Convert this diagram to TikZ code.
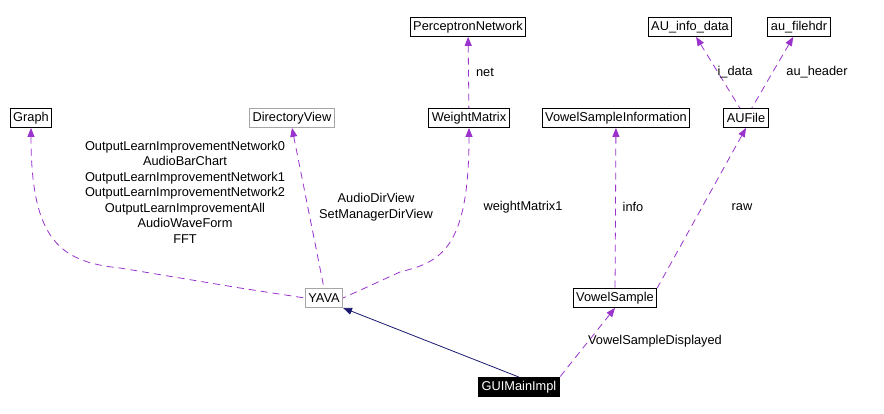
\documentclass[tikz,border=0pt]{standalone}
\usepackage{fontspec}
\setmainfont{Liberation Sans}
\usetikzlibrary{arrows.meta, positioning}
\definecolor{usecol}{HTML}{9A32CD}
\definecolor{inhcol}{HTML}{191970}
\tikzset{
    cls/.style={rectangle, draw, line width=0.8pt, fill=white, inner xsep=3pt, inner ysep=1pt, minimum height=19pt, font=\fontsize{12.8}{14}\selectfont},
    grey/.style={cls, draw=black!35},
    main/.style={cls, fill=black, text=white},
    uses/.style={usecol, dash pattern=on 7pt off 5pt, line width=0.8pt, {Triangle[length=9pt,width=7pt]}-},
    inherits/.style={inhcol, line width=0.8pt, {Triangle[length=9pt,width=7pt]}-},
    lbl/.style={text=black, font=\fontsize{12.8}{15.5}\selectfont, align=center}
}
\begin{document}
\begin{tikzpicture}[x=1pt, y=-1pt]
            \useasboundingbox (0,0) rectangle (884,414);
            \node[cls] (perceptron) at (468,27) {PerceptronNetwork};
            \node[cls] (au_info) at (690,27) {AU\_info\_data};
            \node[cls] (au_hdr) at (799,27) {au\_filehdr};
            \node[cls] (graph) at (31,118) {Graph};
            \node[grey] (dirview) at (292,118) {DirectoryView};
            \node[cls] (weight) at (469,118) {WeightMatrix};
            \node[cls] (vs_info) at (616,118) {VowelSampleInformation};
            \node[cls] (aufile) at (746,118) {AUFile};
            \node[grey] (yava) at (324,298) {YAVA};
            \node[cls] (vsample) at (615,298) {VowelSample};
            \node[main] (gui) at (519,387) {GUIMainImpl};

            \draw[uses] (perceptron) -- (weight);
            \draw[uses] (au_info) -- (aufile);
            \draw[uses] (au_hdr) -- (aufile);
            \draw[uses] (graph.south) .. controls (31,240) and (60,262) .. (120,268) -- (240,288) -- (yava.west);
            \draw[uses] (dirview.south) -- (yava.north);
            \draw[uses] (weight.south) .. controls (469,250) and (440,262) .. (400,272) -- (yava.east);
            \draw[uses] (vs_info) -- (vsample);
            \draw[uses] (aufile.south) -- (vsample.north east);
            \draw[inherits] (yava.south east) -- (gui.north);
            \draw[uses] (vsample.south) -- (gui.north east);

            \node[lbl] (l_net) at (485,72) {net};
            \node[lbl] (l_idata) at (735,72) {i\_data};
            \node[lbl] (l_hdr) at (817,72) {au\_header};
            \node[lbl] (l_graph) at (185,192) {OutputLearnImprovementNetwork0\\AudioBarChart\\OutputLearnImprovementNetwork1\\OutputLearnImprovementNetwork2\\OutputLearnImprovementAll\\AudioWaveForm\\FFT};
            \node[lbl] (l_dir) at (376,207) {AudioDirView\\SetManagerDirView};
            \node[lbl] (l_weight) at (523,207) {weightMatrix1};
            \node[lbl] (l_info) at (633,207) {info};
            \node[lbl] (l_raw) at (742,207) {raw};
            \node[lbl] (l_disp) at (655,341) {VowelSampleDisplayed};
        \end{tikzpicture}
\end{document}
